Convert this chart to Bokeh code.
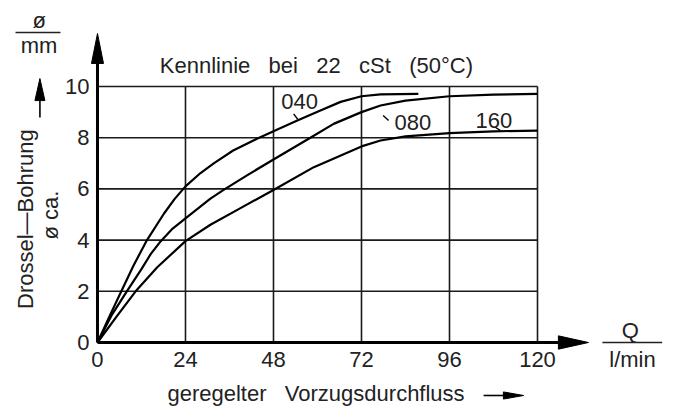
import math
from bokeh.plotting import figure
from bokeh.models import Range1d
from bokeh.core.properties import value
from bokeh.embed import file_html
from bokeh.resources import INLINE

# ---------------- data ----------------
x_ticks = [0, 24, 48, 72, 96, 120]
y_ticks = [0, 2, 4, 6, 8, 10]
x_tick_labels = ["0", "24", "48", "72", "96", "120"]
y_tick_labels = ["0", "2", "4", "6", "8", "10"]
grid_x = [24, 48, 72, 96, 120]
grid_y = [2, 4, 6, 8, 10]

q_040 = [0, 3.2, 6.5, 9.8, 13.5, 18.1, 21.0, 24, 28.1, 31.7, 37.0, 43.5, 48, 54.5, 60.8, 66.3, 72, 77.2, 87.5]
d_040 = [0, 1.0, 2.0, 3.0, 4.0, 5.03, 5.6, 6.1, 6.62, 7.0, 7.5, 7.96, 8.25, 8.67, 9.06, 9.4, 9.62, 9.69, 9.71]

q_080 = [0, 4.0, 8.0, 11.9, 14.5, 17.2, 20.5, 24, 30.8, 34.4, 41, 48, 57.6, 64.4, 72, 77.2, 84, 96, 108, 120]
d_080 = [0, 1.1, 2.0, 2.85, 3.45, 3.95, 4.45, 4.85, 5.62, 5.96, 6.55, 7.15, 7.96, 8.54, 9.0, 9.26, 9.45, 9.62, 9.68, 9.71]

q_160 = [0, 5.4, 10.4, 16.3, 24, 30.8, 39, 48, 59, 72, 77.2, 84, 96, 108, 120]
d_160 = [0, 1.05, 2.0, 2.94, 3.96, 4.6, 5.25, 5.96, 6.85, 7.66, 7.89, 8.05, 8.18, 8.25, 8.28]

curve_labels = ["040", "080", "160"]
label_x = [55.1, 86.0, 108.1]
label_y = [9.14, 8.32, 8.40]
leader_x0 = [53.5, 77.9, 108.5]
leader_y0 = [8.93, 8.87, 8.41]
leader_x1 = [54.6, 79.4, 109.9]
leader_y1 = [8.72, 8.67, 8.28]

NB = "\u00a0 \u00a0"
title_text = NB.join(["Kennlinie", "bei", "22", "cSt", "(50°C)"])
y_title = "Drossel—Bohrung"
y_sub = "ø ca."
y_unit_top = "ø"
y_unit_bottom = "mm"
x_unit_top = "Q"
x_unit_bottom = "l/min"
x_title = "geregelter" + NB + "Vorzugsdurchfluss"

FONT = value("Liberation Sans")
TXT = "#222222"
FS = "22px"
SHIFT = 0.29   # baseline correction (data units)

# visible extent of the data frame (in data units)
X0, X1 = -26.45, 157.09
Y0, Y1 = -2.578, 13.36
XMAX, YMAX = 133.9, 12.07   # ends of the axis arrows

p = figure(width=673, height=408, output_backend="svg", toolbar_location=None,
           x_range=Range1d(X0, X1), y_range=Range1d(Y0, Y1),
           x_axis_type=None, y_axis_type=None,
           min_border=0, min_border_left=0, min_border_right=0,
           min_border_top=0, min_border_bottom=0)
p.outline_line_color = None
p.background_fill_color = "white"
p.border_fill_color = "white"
p.grid.visible = False

# grid (limited to data area)
p.segment(x0=grid_x, y0=[0] * len(grid_x), x1=grid_x, y1=[max(y_ticks)] * len(grid_x),
          line_color="#1a1a1a", line_width=1.6)
p.segment(x0=[0] * len(grid_y), y0=grid_y, x1=[max(x_ticks)] * len(grid_y), y1=grid_y,
          line_color="#1a1a1a", line_width=1.6)

# axis lines with arrows
p.segment(x0=[0, 0], y0=[0, 0], x1=[XMAX - 6, 0], y1=[0, YMAX - 0.8],
          line_color="black", line_width=3)
p.patches(xs=[[XMAX, XMAX - 8.2, XMAX - 8.2], [0, -1.64, 1.64]],
          ys=[[0, 0.26, -0.26], [YMAX, YMAX - 1.17, YMAX - 1.17]],
          fill_color="black", line_color="black", line_width=1)

# tick labels
p.text(x=x_ticks, y=[-0.94 + SHIFT] * len(x_ticks), text=x_tick_labels, text_font=FONT,
       text_font_size=FS, text_color=TXT, text_align="center", text_baseline="alphabetic")
p.text(x=[-2.2] * len(y_ticks), y=y_ticks, text=y_tick_labels, text_font=FONT,
       text_font_size=FS, text_color=TXT, text_align="right", text_baseline="middle")

# curves
for xs, ys in ((q_040, d_040), (q_080, d_080), (q_160, d_160)):
    p.line(xs, ys, line_color="black", line_width=2.2, line_join="round")

# curve labels and leaders
p.text(x=label_x, y=[v + SHIFT for v in label_y], text=curve_labels, text_font=FONT,
       text_font_size=FS, text_color=TXT, text_align="center", text_baseline="alphabetic")
p.segment(x0=leader_x0, y0=leader_y0, x1=leader_x1, y1=leader_y1, line_color="black", line_width=1.4)


def lab(text, x, y, baseline="alphabetic", angle=0.0):
    if baseline == "alphabetic":
        y = y + SHIFT
    p.text(x=[x], y=[y], text=[text], text_font=FONT, text_font_size=FS, text_color=TXT,
           text_align="center", text_baseline=baseline, angle=angle)


lab(title_text, 59.7, 10.55)
lab(y_title, -19.5, 4.82, baseline="middle", angle=math.pi / 2)
lab(y_sub, -12.7, 4.98, baseline="middle", angle=math.pi / 2)
lab(y_unit_top, -15.9, 12.30)
lab(y_unit_bottom, -15.95, 11.33)
lab(x_unit_top, 145.3, 0.17)
lab(x_unit_bottom, 145.9, -0.94)
lab(x_title, 59.6, -2.30)

# fraction bars
p.segment(x0=[-22.36, 137.7], y0=[12.11, 0.0], x1=[-10.09, 154.0], y1=[12.11, 0.0],
          line_color="#222222", line_width=1.5)

# small direction arrows
p.segment(x0=[-15.7, 105.3], y0=[8.79, -2.07], x1=[-15.7, 111.3], y1=[9.6, -2.07],
          line_color="black", line_width=1.6)
p.patches(xs=[[-15.7, -17.06, -14.34], [116.2, 110.7, 110.7]],
          ys=[[10.31, 9.45, 9.45], [-2.07, -1.93, -2.21]],
          fill_color="black", line_color="black", line_width=1)

open("out.html", "w").write(file_html(p, INLINE))
